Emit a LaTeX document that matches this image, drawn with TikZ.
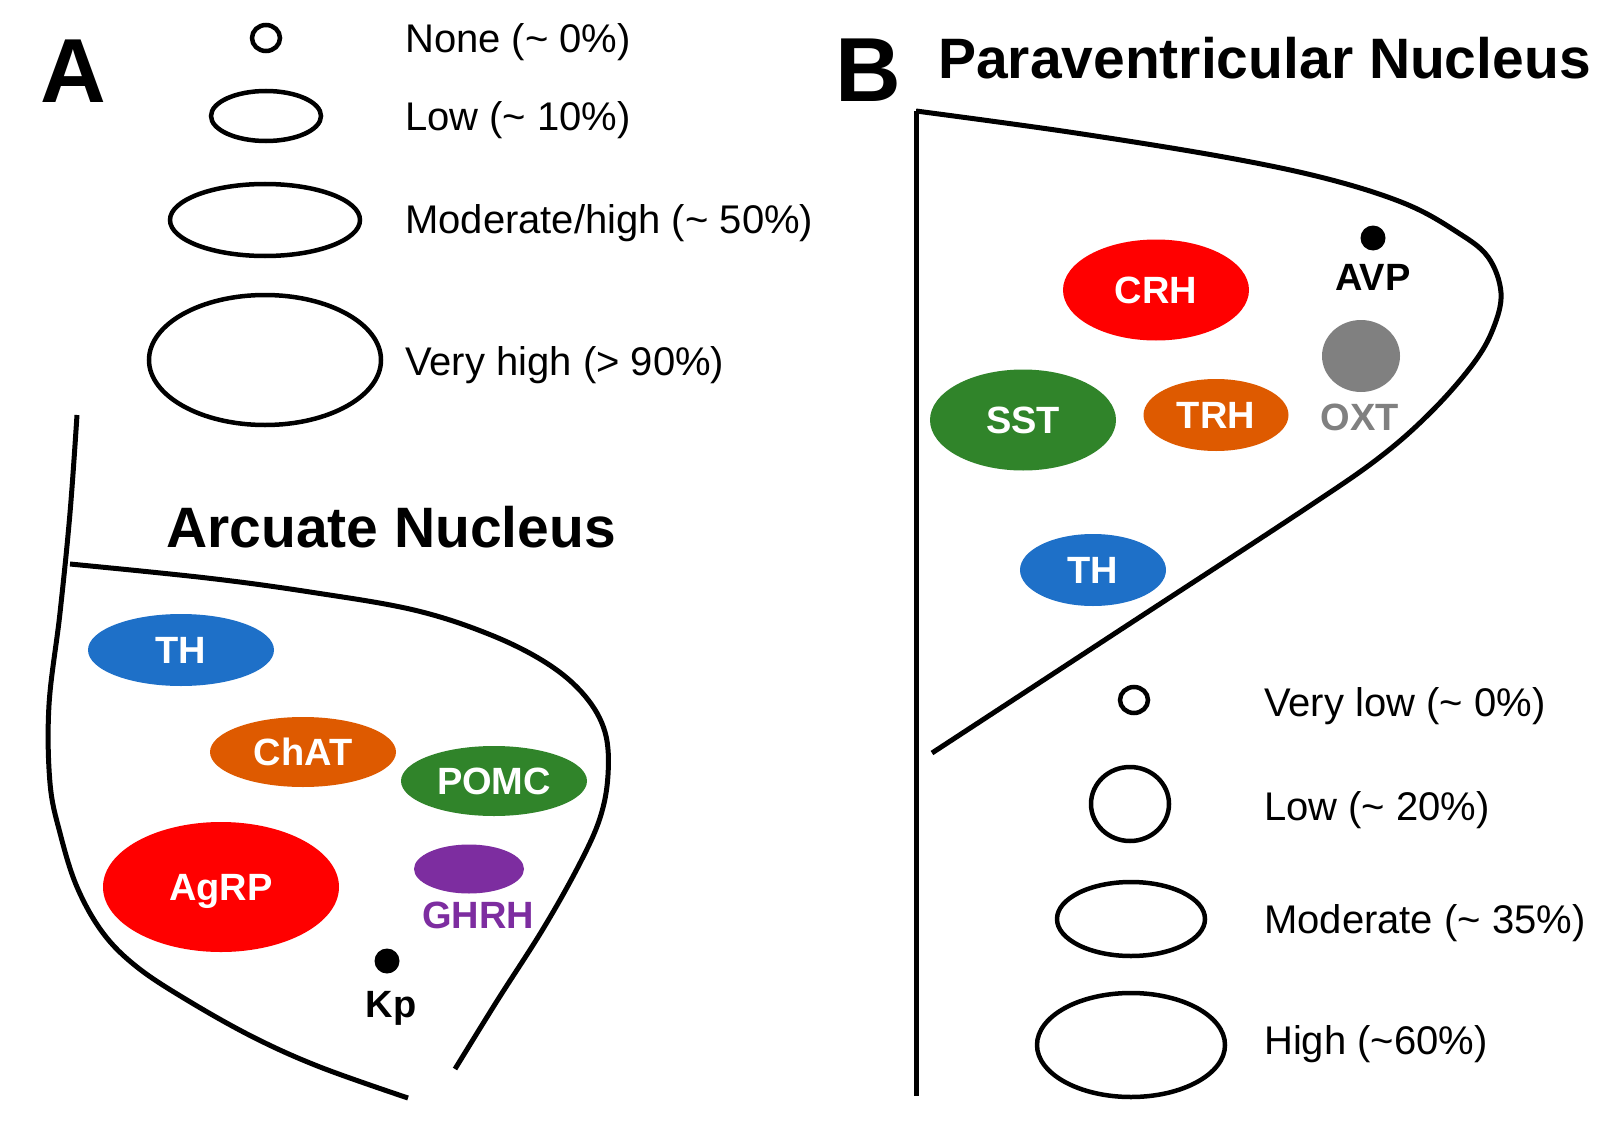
\documentclass[tikz,border=0pt]{standalone}
\usepackage{fontspec}
\setmainfont{Liberation Sans}
\usetikzlibrary{shapes.geometric}
\definecolor{thblue}{RGB}{30,112,200}
\definecolor{orng}{RGB}{222,90,0}
\definecolor{grn}{RGB}{48,132,42}
\definecolor{prpl}{RGB}{125,45,160}
\definecolor{gry}{RGB}{128,128,128}
\definecolor{rd}{RGB}{255,0,0}
\begin{document}
\begin{tikzpicture}[x=1pt,y=-1pt,
  outline/.style={line width=5pt},
  legell/.style={draw, ellipse, line width=4.5pt, inner sep=0pt, outer sep=0pt},
  nuc/.style={ellipse, inner sep=0pt, text=white, font=\fontsize{38}{40}\selectfont\bfseries, text height=27pt, text depth=0pt},
  lbl/.style={inner sep=0pt, font=\fontsize{38}{40}\selectfont\bfseries, text height=27pt, text depth=0pt},
  legtxt/.style={anchor=west, inner sep=0pt, font=\fontsize{40}{44}\selectfont, text height=28.6pt, text depth=0pt},
  title/.style={anchor=west, inner sep=0pt, font=\fontsize{57}{60}\selectfont\bfseries, text height=40.8pt, text depth=0pt},
  panel/.style={inner sep=0pt, font=\fontsize{91}{95}\selectfont\bfseries, text height=65pt, text depth=0pt},
  dot/.style={circle, fill=black, inner sep=0pt, minimum size=25pt}]
\useasboundingbox (0,0) rectangle (1620,1121);
\fill[white] (0,0) rectangle (1620,1121);

% ---------- Panel A ----------
\node[panel] (labA) at (73,70) {A};
\node[legell, minimum width=28pt, minimum height=26pt] (la1) at (266,38) {};
\node[legell, minimum width=110pt, minimum height=50pt] (la2) at (266,116) {};
\node[legell, minimum width=190pt, minimum height=72pt] (la3) at (265,220) {};
\node[legell, minimum width=232pt, minimum height=130pt] (la4) at (265,360) {};
\node[legtxt] (ta1) at (405,38) {None (\char"7E\ 0\%)};
\node[legtxt] (ta2) at (405,116) {Low (\char"7E\ 10\%)};
\node[legtxt] (ta3) at (405,219) {Moderate/high (\char"7E\ 50\%)};
\node[legtxt] (ta4) at (405,361) {Very high (> 90\%)};
\node[title] (arc) at (166,527) {Arcuate Nucleus};

\draw[outline] plot[smooth, tension=0.6] coordinates {(77,415) (70,513) (60,613) (49,705) (50,783) (60,833) (77,887) (103,933) (137,967) (187,1000) (253,1037) (320,1067) (408,1098)};
\draw[outline] plot[smooth, tension=0.6] coordinates {(70,564) (207,578) (310,592) (414,610) (491,635) (548,664) (585,696) (605,732) (608,775) (600,818) (579,865) (543,929) (497,1001) (455,1069)};

\node[nuc, fill=thblue, minimum width=186pt, minimum height=72pt] (thA) at (181,650) {TH};
\node[nuc, fill=orng, minimum width=186pt, minimum height=70pt] (chat) at (303,752) {ChAT};
\node[nuc, fill=grn, minimum width=186pt, minimum height=70pt] (pomc) at (494,781) {POMC};
\node[nuc, fill=rd, minimum width=236pt, minimum height=130pt] (agrp) at (221,887) {AgRP};
\node[ellipse, fill=prpl, inner sep=0pt, minimum width=110pt, minimum height=49pt] (ghrh) at (469,869) {};
\node[lbl, text=prpl] (ghrht) at (478,915) {GHRH};
\node[dot] (kp) at (387,961) {};
\node[lbl] (kpt) at (391,1004) {Kp};

% ---------- Panel B ----------
\node[panel] (labB) at (868,69) {B};
\node[title] (pvn) at (938,58) {Paraventricular Nucleus};
\draw[outline] (916,111) -- (916,1096);
\draw[outline] plot[smooth, tension=0.6] coordinates {(916,111) (1069,132) (1224,157) (1328,179) (1406,204) (1457,232) (1488,257) (1501,293) (1493,329) (1473,364) (1432,411) (1380,457) (1302,511) (1117,632) (932,753)};

\node[nuc, fill=rd, minimum width=186pt, minimum height=101pt] (crh) at (1156,290) {CRH};
\node[dot] (avp) at (1373,238) {};
\node[lbl] (avpt) at (1373,277) {AVP};
\node[ellipse, fill=gry, inner sep=0pt, minimum width=78pt, minimum height=72pt] (oxt) at (1361,356) {};
\node[lbl, text=gry] (oxtt) at (1360,417) {OXT};
\node[nuc, fill=grn, minimum width=186pt, minimum height=101pt] (sst) at (1023,420) {SST};
\node[nuc, fill=orng, minimum width=145pt, minimum height=72pt] (trh) at (1216,415) {TRH};
\node[nuc, fill=thblue, minimum width=146pt, minimum height=72pt] (thB) at (1093,570) {TH};

\node[legell, minimum width=28pt, minimum height=26pt] (lb1) at (1134,700) {};
\node[legell, minimum width=78pt, minimum height=74pt] (lb2) at (1130,804) {};
\node[legell, minimum width=148pt, minimum height=74pt] (lb3) at (1131,919) {};
\node[legell, minimum width=188pt, minimum height=104pt] (lb4) at (1131,1045) {};
\node[legtxt] (tb1) at (1264,702) {Very low (\char"7E\ 0\%)};
\node[legtxt] (tb2) at (1264,806) {Low (\char"7E\ 20\%)};
\node[legtxt] (tb3) at (1264,919) {Moderate (\char"7E\ 35\%)};
\node[legtxt] (tb4) at (1264,1040) {High (\char"7E 60\%)};
\end{tikzpicture}
\end{document}
